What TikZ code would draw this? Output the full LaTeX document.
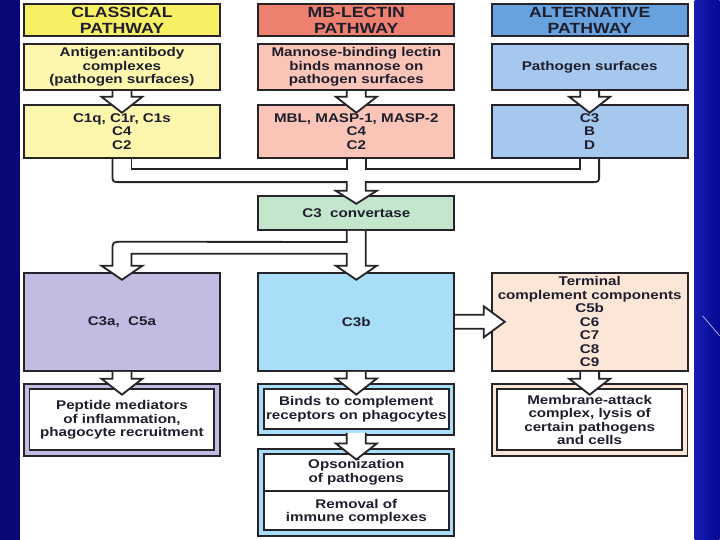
\documentclass[tikz,border=0pt]{standalone}
\usepackage{fontspec}
\setmainfont{Liberation Sans}[FakeStretch=1.2]
\usetikzlibrary{calc}
\definecolor{edge}{RGB}{38,36,40}
\definecolor{ink}{RGB}{30,30,45}
\definecolor{clhead}{RGB}{248,240,100}
\definecolor{clbody}{RGB}{252,247,172}
\definecolor{mbhead}{RGB}{238,128,112}
\definecolor{mbbody}{RGB}{250,196,182}
\definecolor{alhead}{RGB}{104,162,222}
\definecolor{albody}{RGB}{166,200,238}
\definecolor{convfill}{RGB}{196,230,205}
\definecolor{c3afill}{RGB}{192,188,226}
\definecolor{c3bfill}{RGB}{168,222,248}
\definecolor{trmfill}{RGB}{252,230,215}
\definecolor{slide}{RGB}{8,8,120}
\definecolor{slideR}{RGB}{22,30,175}
\tikzset{blk/.style={draw=edge, line width=1.3pt, text=ink, align=center, inner sep=1pt,
    font=\bfseries\fontsize{9}{9.6}\selectfont, minimum width=49mm},
  hdr/.style={blk, font=\bfseries\fontsize{10.5}{11.4}\selectfont, minimum height=8.1mm},
  res/.style={blk, double=#1, double distance=2.6pt, fill=white, minimum width=47.6mm},
  hollow/.style={draw=edge, line width=1.3pt, fill=white, line join=miter}}

\begin{document}
\begin{tikzpicture}[x=0.25mm, y=-0.25mm]
  % slide
  \fill[white] (0,0) rectangle (720,540);
  \fill[slide] (0,0) rectangle (20,540);
  \shade[left color=slideR, right color=slide!80!blue] (695,0) rectangle (720,540);
  \draw[slideR!40!white, line width=0.6pt] (703,316) -- (720,336);
  % pathways
  \node[hdr, fill=clhead] (cl1) at (122,20) {CLASSICAL\\PATHWAY};
  \node[hdr, fill=mbhead] (mb1) at (356.5,20) {MB-LECTIN\\PATHWAY};
  \node[hdr, fill=alhead] (al1) at (590,20) {ALTERNATIVE\\PATHWAY};
  \node[blk, fill=clbody, minimum height=11.6mm] (cl2) at (122,67) {Antigen:antibody\\complexes\\(pathogen surfaces)};
  \node[blk, fill=mbbody, minimum height=11.6mm] (mb2) at (356.5,67) {Mannose-binding lectin\\binds mannose on\\pathogen surfaces};
  \node[blk, fill=albody, minimum height=11.6mm] (al2) at (590,67) {Pathogen surfaces};
  \node[blk, fill=clbody, minimum height=13.4mm] (cl3) at (122,131.5) {C1q, C1r, C1s\\C4\\C2};
  \node[blk, fill=mbbody, minimum height=13.4mm] (mb3) at (356.5,131.5) {MBL, MASP-1, MASP-2\\C4\\C2};
  \node[blk, fill=albody, minimum height=13.4mm] (al3) at (590,131.5) {C3\\B\\D};
  % convertase and products
  \node[blk, fill=convfill, minimum height=8.6mm] (conv) at (356.5,213) {C3\ \ convertase};
  \node[blk, fill=c3afill, minimum height=24.6mm] (c3a) at (122,322) {C3a,\ \ C5a};
  \node[blk, fill=c3bfill, minimum height=24.6mm] (c3b) at (356.5,322) {C3b};
  \node[blk, fill=trmfill, minimum height=24.6mm] (trm) at (590,322) {Terminal\\complement components\\C5b\\C6\\C7\\C8\\C9};
  % effects
  \node[res=c3afill, minimum height=16.6mm] (pep) at (122,420) {Peptide mediators\\of inflammation,\\phagocyte recruitment};
  \node[res=c3bfill, minimum height=11.4mm] (bnd) at (356.5,409.5) {Binds to complement\\receptors on phagocytes};
  \node[res=trmfill, minimum height=16.6mm] (mac) at (590,420) {Membrane-attack\\complex, lysis of\\certain pathogens\\and cells};
  \node[res=c3bfill, minimum height=20.4mm] (ops) at (356.5,492.5) {};
  \node[blk, draw=none, fill=none] (opt) at ($(ops.center)+(0,-20)$) {Opsonization\\of pathogens};
  \node[blk, draw=none, fill=none] (rmv) at ($(ops.center)+(0,19.5)$) {Removal of\\immune complexes};
  \draw[edge, line width=1.3pt] ($(ops.west)+(3.5,-1.5)$) -- ($(ops.east)+(-3.5,-1.5)$);
  % straight block arrows
  \foreach \a/\b in {cl2/cl3,mb2/mb3,al2/al3,c3a/pep,c3b/bnd,trm/mac,bnd/ops}
    \draw[hollow] ($(\a.south)+(-9.5,0)$) -- ($(\b.north)+(-9.5,-7)$) -- ($(\b.north)+(-20.5,-7)$)
      -- ($(\b.north)+(0,9)$) -- ($(\b.north)+(20.5,-7)$) -- ($(\b.north)+(9.5,-7)$) -- ($(\a.south)+(9.5,0)$);
  % merge into C3 convertase
  \draw[hollow] ($(cl3.south)+(-9.5,0)$) -- ($(cl3.south)+(-9.5,15)$) .. controls ($(cl3.south)+(-9.5,23)$) .. ($(cl3.south)+(-1.5,23)$)
    -- ($(mb3.south)+(-9.5,23)$) -- ($(conv.north)+(-9.5,-4)$) -- ($(conv.north)+(-20.5,-4)$) -- ($(conv.north)+(0,9)$)
    -- ($(conv.north)+(20.5,-4)$) -- ($(conv.north)+(9.5,-4)$) -- ($(mb3.south)+(9.5,23)$)
    -- ($(al3.south)+(1.5,23)$) .. controls ($(al3.south)+(9.5,23)$) .. ($(al3.south)+(9.5,15)$) -- ($(al3.south)+(9.5,0)$);
  \draw[edge, line width=1.3pt] ($(cl3.south)+(9.5,0)$) |- ($(mb3.south)+(-9.5,10)$) -- ($(mb3.south)+(-9.5,0)$);
  \draw[edge, line width=1.3pt] ($(al3.south)+(-9.5,0)$) |- ($(mb3.south)+(9.5,10)$) -- ($(mb3.south)+(9.5,0)$);
  % split to C3a and C3b
  \draw[hollow] ($(conv.south)+(-9.5,0)$) -- ($(conv.south)+(-9.5,11)$) -- ($(c3a.north)+(0.5,-30)$)
    .. controls ($(c3a.north)+(-9.5,-30)$) .. ($(c3a.north)+(-9.5,-20)$) -- ($(c3a.north)+(-9.5,-6)$)
    -- ($(c3a.north)+(-20.5,-6)$) -- ($(c3a.north)+(0,8)$) -- ($(c3a.north)+(20.5,-6)$) -- ($(c3a.north)+(9.5,-6)$)
    -- ($(c3a.north)+(9.5,-18)$) -- ($(c3b.north)+(-9.5,-18)$) -- ($(c3b.north)+(-9.5,-6)$)
    -- ($(c3b.north)+(-20.5,-6)$) -- ($(c3b.north)+(0,8)$) -- ($(c3b.north)+(20.5,-6)$) -- ($(c3b.north)+(9.5,-6)$)
    -- ($(conv.south)+(9.5,0)$);
  % C3b to terminal components
  \draw[hollow] ($(c3b.east)+(0,-7)$) -- ($(trm.west)+(-7,-7)$) -- ($(trm.west)+(-7,-15.5)$) -- ($(trm.west)+(14,0)$)
    -- ($(trm.west)+(-7,15.5)$) -- ($(trm.west)+(-7,7)$) -- ($(c3b.east)+(0,7)$);
\end{tikzpicture}
\end{document}
